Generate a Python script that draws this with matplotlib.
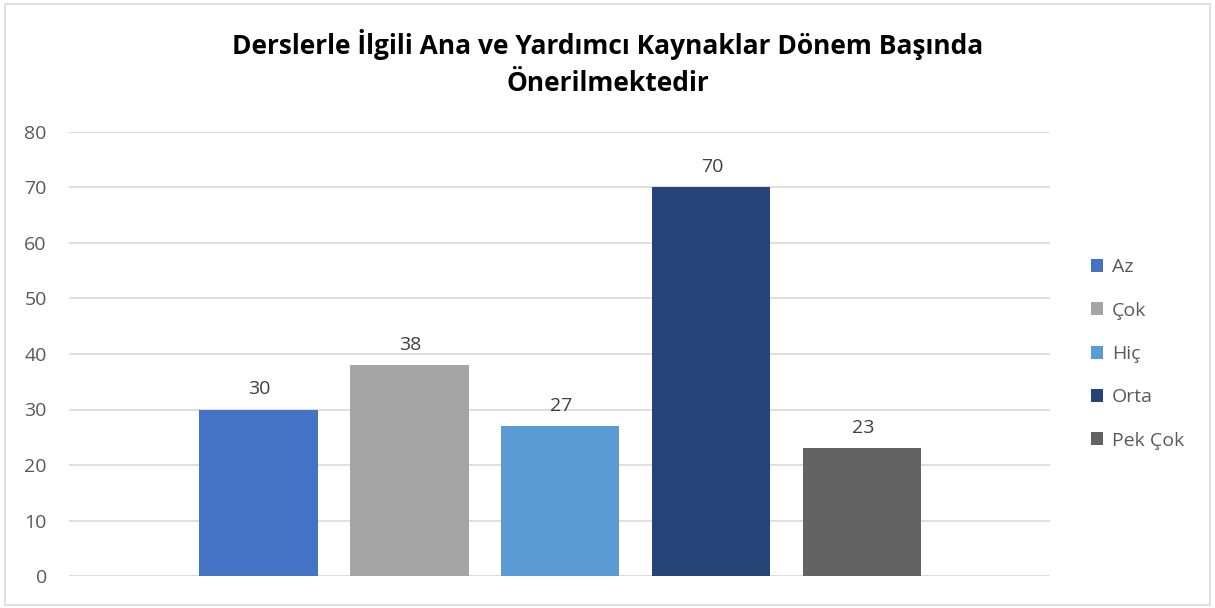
import matplotlib
matplotlib.use("Agg")
import matplotlib.pyplot as plt
from matplotlib.patches import Rectangle

title = "Derslerle İlgili Ana ve Yardımcı Kaynaklar Dönem Başında\nÖnerilmektedir"
series = ["Az", "Çok", "Hiç", "Orta", "Pek Çok"]
values = [30, 38, 27, 70, 23]
colors = ["#4472C4", "#A5A5A5", "#5B9BD5", "#264478", "#636363"]
yticks = [0, 10, 20, 30, 40, 50, 60, 70, 80]

plt.rcParams['font.family'] = ['Open Sans', 'DejaVu Sans']

fig = plt.figure(figsize=(12.15, 6.08), dpi=100)
ax = fig.add_axes([69/1215, 1-576/608, (1050-69)/1215, (576-132)/608])

bars = []
for i, (s, v, c) in enumerate(zip(series, values, colors)):
    b = ax.bar(i - 0.005, v, width=0.785, color=c, label=s, zorder=3)
    bars.append(b)
    ax.text(i, v + 2.0, str(v), ha='center', va='bottom', fontsize=14, color='#404040')

ax.set_xlim(-1.26, 5.24)
ax.set_ylim(0, 80)
ax.set_yticks(yticks)
ax.set_yticklabels([str(t) for t in yticks], fontsize=14, color='#595959')
ax.set_xticks([])
ax.tick_params(axis='y', length=0, pad=16)
ax.grid(axis='y', color='#D9D9D9', linewidth=1.2, zorder=0)
for sp in ax.spines.values():
    sp.set_visible(False)
ax.axhline(0, color='#D9D9D9', linewidth=1.2, zorder=2)

fig.text(0.5, 1-63/608, title, ha='center', va='center', fontsize=19,
         fontweight='bold', color='#000000', linespacing=1.45)

leg = fig.legend(handles=[b[0] for b in bars], labels=series,
                 loc='center left', bbox_to_anchor=(1083/1215, 1-354/608),
                 frameon=False, fontsize=14, handlelength=0.65, handleheight=0.65,
                 handletextpad=0.45, labelspacing=1.3, borderaxespad=0)
for t in leg.get_texts():
    t.set_color('#595959')

fig.patches.append(Rectangle((5/1215, 3/608), 1205/1215, 601/608,
                             transform=fig.transFigure, fill=False,
                             edgecolor='#D9D9D9', linewidth=1.2))

fig.savefig("out.png", dpi=100)
